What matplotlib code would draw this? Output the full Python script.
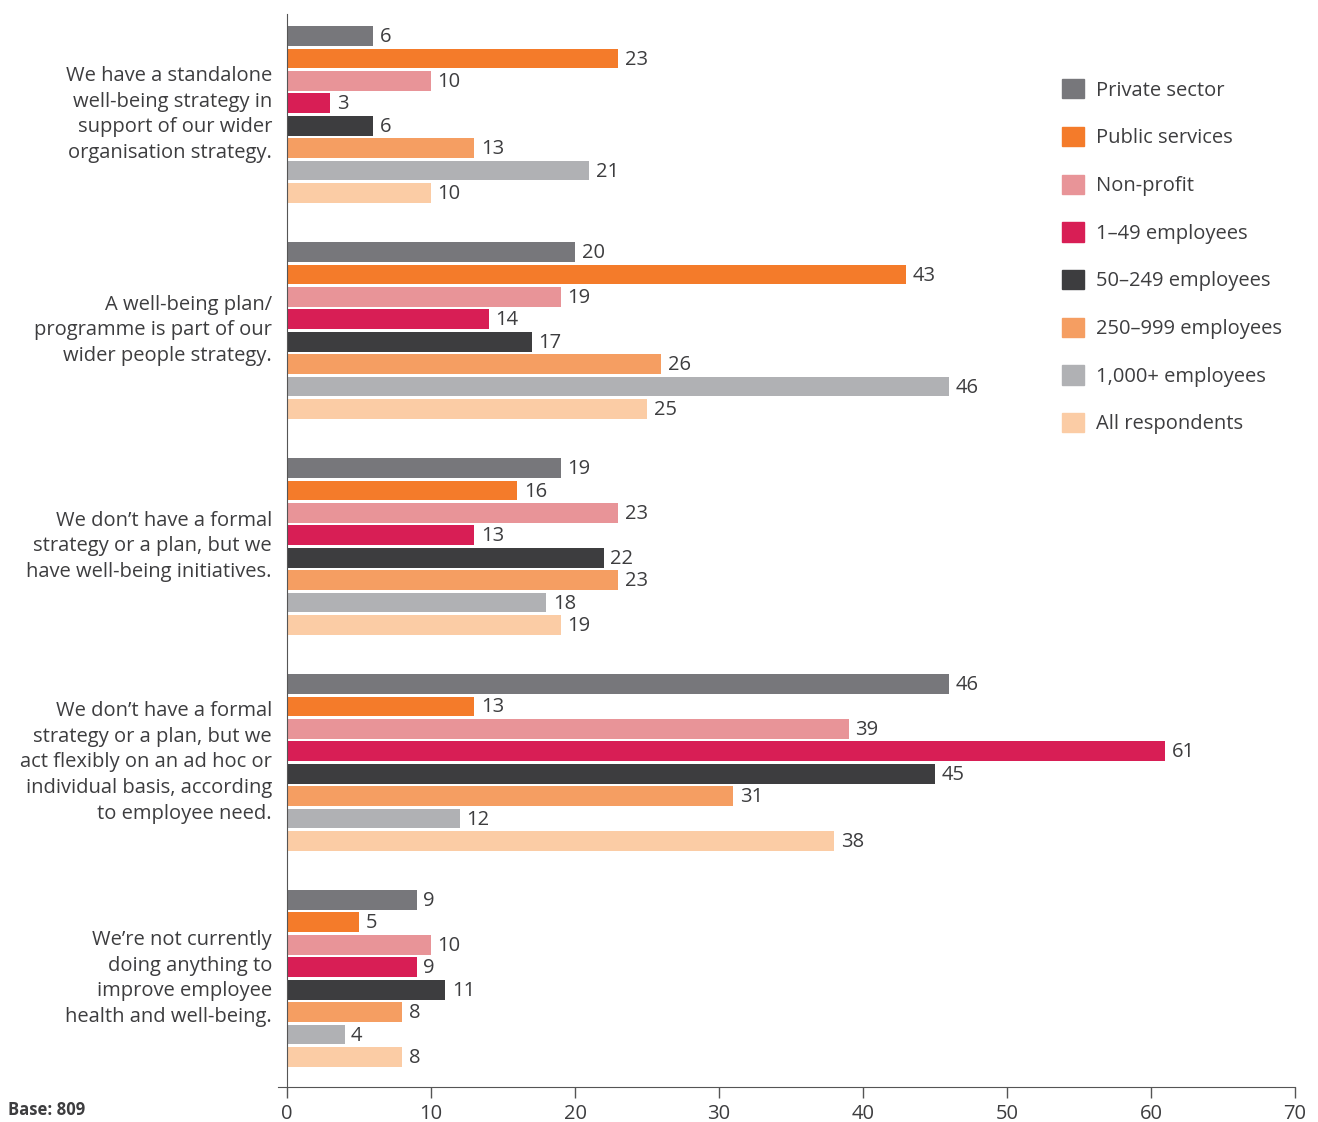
import matplotlib.pyplot as plt
from matplotlib.patches import Patch

# data
categories = [
    "We have a standalone\nwell-being strategy in\nsupport of our wider\norganisation strategy.",
    "A well-being plan/\nprogramme is part of our\nwider people strategy.",
    "We don\u2019t have a formal\nstrategy or a plan, but we\nhave well-being initiatives.",
    "We don\u2019t have a formal\nstrategy or a plan, but we\nact flexibly on an ad hoc or\nindividual basis, according\nto employee need.",
    "We\u2019re not currently\ndoing anything to\nimprove employee\nhealth and well-being.",
]
series_names = ["Private sector", "Public services", "Non-profit", "1\u201349 employees",
                "50\u2013249 employees", "250\u2013999 employees", "1,000+ employees",
                "All respondents"]
private_sector = [6, 20, 19, 46, 9]
public_services = [23, 43, 16, 13, 5]
non_profit = [10, 19, 23, 39, 10]
emp_1_49 = [3, 14, 13, 61, 9]
emp_50_249 = [6, 17, 22, 45, 11]
emp_250_999 = [13, 26, 23, 31, 8]
emp_1000_plus = [21, 46, 18, 12, 4]
all_respondents = [10, 25, 19, 38, 8]
x_ticks = [0, 10, 20, 30, 40, 50, 60, 70]

series = [private_sector, public_services, non_profit, emp_1_49,
          emp_50_249, emp_250_999, emp_1000_plus, all_respondents]
colors = ["#77777b", "#f47b2a", "#e89498", "#d81e55",
          "#3d3d3f", "#f59e62", "#b0b1b4", "#fbcca5"]

plt.rcParams['font.family'] = ['Open Sans', 'DejaVu Sans']
text_color = "#3d3d3f"

fig = plt.figure(figsize=(13.18, 11.22), dpi=100)
# x=0 sits at 287px, x=70 at 1295px; axis starts a little left of zero
ax = fig.add_axes([278.4 / 1318, 35 / 1122, (1295 - 278.4) / 1318, (1087 - 14) / 1122])

group_pitch = 216 / 22.43
for j, (vals, col) in enumerate(zip(series, colors)):
    ys = [g * group_pitch + j for g in range(len(categories))]
    ax.barh(ys, vals, height=0.88, color=col, label=series_names[j])
    for y, v in zip(ys, vals):
        ax.text(v + 0.45, y + 0.05, str(v), va='center', ha='left', fontsize=14.5,
                color=text_color)

ax.set_ylim(46.86, -0.98)
ax.set_xlim(-0.6, 70)
ax.set_xticks(x_ticks)
ax.set_xticklabels([str(t) for t in x_ticks])
ax.tick_params(axis='x', length=8, width=1, color="#555555", pad=4,
               labelsize=14.5, labelcolor=text_color)

# category labels, right aligned just left of the zero line
ax.set_yticks([])
centers = [g * group_pitch + 3.5 for g in range(len(categories))]
for c, lab in zip(centers, categories):
    ax.text(-1.05, c, lab, ha='right', va='center', fontsize=14.5,
            color=text_color, linespacing=1.38)

for s in ['top', 'right']:
    ax.spines[s].set_visible(False)
ax.spines['left'].set_position(('data', 0))
ax.spines['left'].set_color("#555555")
ax.spines['bottom'].set_color("#555555")

handles = [Patch(color=c, label=n) for c, n in zip(colors, series_names)]
fig.legend(handles=handles, loc='upper left', bbox_to_anchor=(1044 / 1318, 1 - 61 / 1122),
           frameon=False, fontsize=14.5, handlelength=1.1, handleheight=1.1,
           labelspacing=1.3, handletextpad=0.6, labelcolor=text_color)

fig.text(8 / 1318, 1 - 1110 / 1122, "Base: 809", fontsize=12, fontweight='bold',
         color=text_color, va='center')

fig.savefig("out.png", dpi=100)
